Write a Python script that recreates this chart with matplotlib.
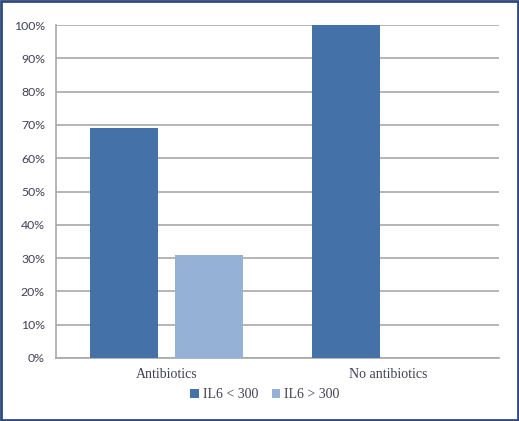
import matplotlib.pyplot as plt
import matplotlib.patches as mpatches
import numpy as np
from matplotlib.ticker import FuncFormatter, MultipleLocator

categories = ['Antibiotics', 'No antibiotics']
series_names = ['IL6 < 300', 'IL6 > 300']
il6_low = [69, 100]
il6_high = [31, 0]

colors = ['#4472A8', '#95B1D5']
text_color = '#404058'

fig = plt.figure(figsize=(5.19, 4.21), dpi=100)
fig.patch.set_facecolor('white')
ax = fig.add_axes([56 / 519, 63 / 421, 443 / 519, 333 / 421])

x = np.arange(len(categories))
width = 0.307
offset = 0.192
ax.bar(x - offset, il6_low, width, color=colors[0], label=series_names[0], zorder=3)
ax.bar(x + offset, il6_high, width, color=colors[1], label=series_names[1], zorder=3)

ax.set_xlim(-0.5, 1.5)
ax.set_ylim(0, 100)
ax.yaxis.set_major_locator(MultipleLocator(10))
ax.yaxis.set_major_formatter(FuncFormatter(lambda v, p: f'{v:.0f}%'))
ax.grid(True, axis='y', color='#A8A8A8', linewidth=1.2, zorder=0)
ax.set_axisbelow(True)

for s in ['top', 'right']:
    ax.spines[s].set_visible(False)
ax.spines['left'].set_color('#A8A8A8')
ax.spines['bottom'].set_color('#A8A8A8')
ax.spines['left'].set_linewidth(1.2)
ax.spines['bottom'].set_linewidth(1.2)

ax.tick_params(axis='y', length=0, pad=8, labelsize=10, labelcolor=text_color)
ax.tick_params(axis='x', length=0, pad=7, labelsize=10, labelcolor=text_color)
ax.set_xticks(x)
ax.set_xticklabels(categories, family='Liberation Serif')
for lbl in ax.get_yticklabels():
    lbl.set_family('Lato')
    lbl.set_fontsize(8.8)

leg = fig.legend(loc='center', bbox_to_anchor=(265 / 519, 1 - 395 / 421), ncol=2,
                 frameon=False, handlelength=0.6, handleheight=0.6,
                 handletextpad=0.3, columnspacing=1.0,
                 prop={'family': 'Liberation Serif', 'size': 10})
for t in leg.get_texts():
    t.set_color(text_color)

fig.add_artist(mpatches.Rectangle((0.002, 0.002), 0.996, 0.996, transform=fig.transFigure,
                                  fill=False, edgecolor='#2E4A7D', linewidth=2))

fig.savefig('out.png', dpi=100, facecolor='white')
